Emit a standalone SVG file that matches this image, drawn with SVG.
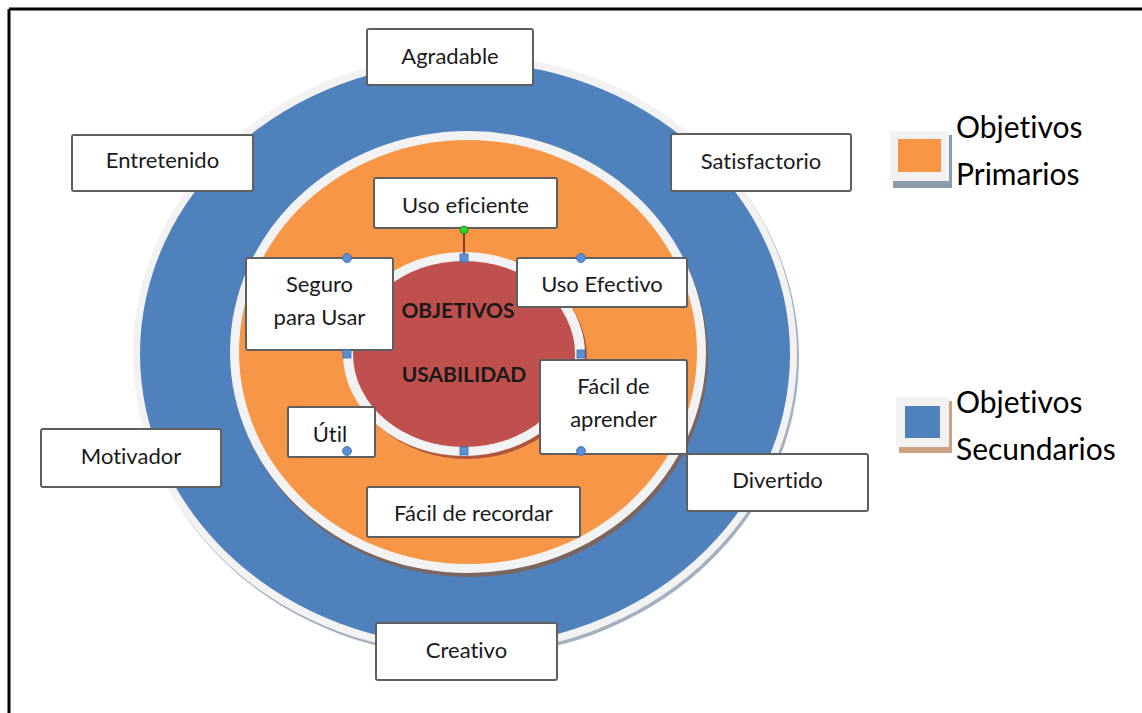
<svg xmlns="http://www.w3.org/2000/svg" width="1142" height="713" viewBox="0 0 1142 713">
<style>
text{font-variant-ligatures:none;font-feature-settings:"liga" 0,"clig" 0}
.box{fill:#ffffff;stroke:#5f5f5f;stroke-width:2}
.t{font-family:Lato,"Open Sans","Liberation Sans",sans-serif;font-size:22px;fill:#1a1a1a;text-anchor:middle}
.c{font-family:Lato,"Liberation Sans",sans-serif;font-size:21px;font-weight:bold;fill:#1a1a1a;text-anchor:middle}
.lg{font-family:Lato,"Open Sans","Liberation Sans",sans-serif;font-size:30px;fill:#000000}
.hc{fill:#5b8fd6;stroke:#3a6ab0;stroke-width:0.8}
</style>
<rect x="0" y="0" width="1142" height="713" fill="#ffffff"/>
<g id="frame">
<line x1="9" y1="9" x2="1142" y2="9" stroke="#000" stroke-width="3"/>
<line x1="9" y1="9" x2="9" y2="713" stroke="#000" stroke-width="3"/>
</g>
<g id="rings">
<ellipse cx="467" cy="357" rx="332" ry="300" fill="#a3b0c0"/>
<ellipse cx="465" cy="354" rx="332" ry="300" fill="#f2f2f2"/>
<ellipse cx="465" cy="354" rx="325" ry="292" fill="#4f81bd"/>
<ellipse cx="470" cy="356" rx="238" ry="221" fill="#7b655f"/>
<ellipse cx="468" cy="352" rx="238" ry="221" fill="#f2f2f2"/>
<ellipse cx="468" cy="352" rx="229" ry="212" fill="#f79646"/>
<ellipse cx="467" cy="357" rx="120" ry="102" fill="#b0553b"/>
<ellipse cx="464" cy="354" rx="121" ry="102" fill="#f2f2f2"/>
<ellipse cx="464" cy="354" rx="111" ry="93" fill="#c0504d"/>
</g>
<g id="connectors"></g>
<g id="agradable"><rect class="box" x="367" y="29" width="166" height="56" rx="2"/><text class="t" x="450" y="64">Agradable</text></g>
<g id="entretenido"><rect class="box" x="72" y="135" width="181" height="56" rx="2"/><text class="t" x="162.5" y="168">Entretenido</text></g>
<g id="satisfactorio"><rect class="box" x="671" y="134" width="180" height="57" rx="2"/><text class="t" x="761" y="169">Satisfactorio</text></g>
<g id="motivador"><rect class="box" x="41" y="429" width="180" height="58" rx="2"/><text class="t" x="131" y="464">Motivador</text></g>
<g id="divertido"><rect class="box" x="687" y="454" width="181" height="57" rx="2"/><text class="t" x="777.5" y="488">Divertido</text></g>
<g id="creativo"><rect class="box" x="376" y="623" width="181" height="57" rx="2"/><text class="t" x="466.5" y="658">Creativo</text></g>
<g id="uso-eficiente"><rect class="box" x="374" y="178" width="183" height="50" rx="2"/><text class="t" x="465.5" y="213">Uso eficiente</text></g>
<g id="seguro"><rect class="box" x="246" y="258" width="147" height="92" rx="2"/><text class="t" x="319.5" y="292">Seguro</text><text class="t" x="319.5" y="325">para Usar</text></g>
<g id="uso-efectivo"><rect class="box" x="517" y="258" width="170" height="49" rx="2"/><text class="t" x="602" y="292">Uso Efectivo</text></g>
<g id="facil-aprender"><rect class="box" x="540" y="360" width="147" height="94" rx="2"/><text class="t" x="613.5" y="394">Fácil de</text><text class="t" x="613.5" y="427">aprender</text></g>
<g id="util"><rect class="box" x="288" y="407" width="87" height="50" rx="2"/><text class="t" x="330" y="442">Útil</text></g>
<g id="facil-recordar"><rect class="box" x="367" y="487" width="213" height="50" rx="2"/><text class="t" x="473.5" y="521">Fácil de recordar</text></g>
<g id="centro"><text class="c" x="458" y="318">OBJETIVOS</text><text class="c" x="464" y="382">USABILIDAD</text></g>
<g id="handles">
<line x1="464" y1="233" x2="464" y2="255" stroke="#5a1c1c" stroke-width="1.5"/>
<circle cx="464" cy="230" r="4" fill="#22dd22" stroke="#3a6a3a" stroke-width="0.8"/>
<rect class="hc" x="460" y="254" width="8" height="8"/>
<rect class="hc" x="343" y="350" width="8" height="8"/>
<rect class="hc" x="577" y="350" width="8" height="8"/>
<rect class="hc" x="460" y="447" width="8" height="8"/>
<circle class="hc" cx="347" cy="258" r="4.5"/>
<circle class="hc" cx="581" cy="258" r="4.5"/>
<circle class="hc" cx="347" cy="451" r="4.5"/>
<circle class="hc" cx="581" cy="451" r="4.5"/>
</g>
<g id="legend-primarios">
<rect x="893" y="135" width="59" height="53" fill="#8c9aad"/>
<rect x="890" y="131" width="59" height="50" fill="#f2f2f2"/>
<rect x="898" y="139" width="43" height="33" fill="#f79646"/>
<text class="lg" x="956" y="138">Objetivos</text>
<text class="lg" x="956" y="185">Primarios</text>
</g>
<g id="legend-secundarios">
<rect x="899" y="401" width="53" height="52" fill="#cda180"/>
<rect x="896" y="397" width="53" height="50" fill="#f2f2f2"/>
<rect x="905" y="406" width="35" height="32" fill="#4f81bd"/>
<text class="lg" x="956" y="413">Objetivos</text>
<text class="lg" x="956" y="460">Secundarios</text>
</g>
</svg>
